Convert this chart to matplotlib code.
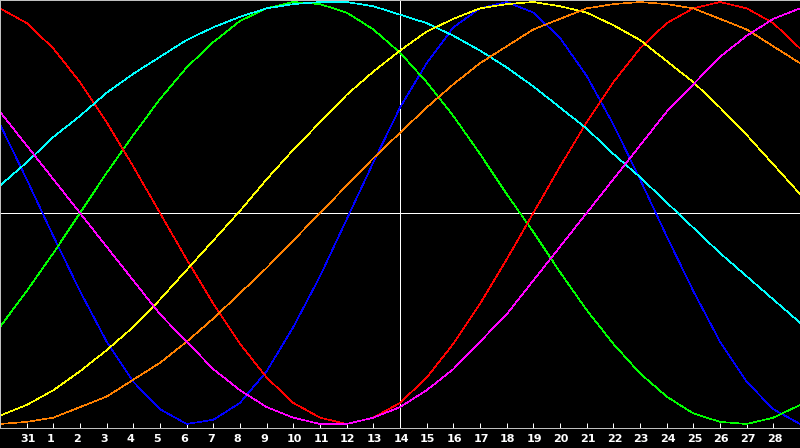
import matplotlib
matplotlib.use("Agg")
import matplotlib.pyplot as plt
from matplotlib.transforms import offset_copy

# Day labels along the x axis (index 0 .. 30)
DAYS = ["30", "31", "1", "2", "3", "4", "5", "6", "7", "8", "9", "10", "11", "12",
        "13", "14", "15", "16", "17", "18", "19", "20", "21", "22", "23", "24",
        "25", "26", "27", "28", "29"]
TODAY = "14"

# Daily values (percent)
RED = [97, 90, 78, 62, 43, 22, 0, -22, -43, -62, -78, -90, -97, -100, -97, -90,
       -78, -62, -43, -22, 0, 22, 43, 62, 78, 90, 97, 100, 97, 90, 78]
BLUE = [42, 16, -11, -37, -61, -80, -93, -100, -98, -90, -75, -54, -30, -3, 24, 50,
        71, 88, 97, 100, 95, 83, 65, 42, 16, -11, -37, -61, -80, -93, -100]
GREEN = [-54, -37, -19, 0, 19, 37, 54, 69, 81, 91, 97, 100, 99, 95, 87, 76,
         62, 46, 28, 9, -9, -28, -46, -62, -76, -87, -95, -99, -100, -97, -91]
MAGENTA = [48, 32, 16, 0, -16, -32, -48, -61, -74, -84, -92, -97, -100, -100, -97, -92,
           -84, -74, -61, -48, -32, -16, 0, 16, 32, 48, 61, 74, 84, 92, 97]
CYAN = [13, 24, 36, 46, 57, 66, 74, 82, 88, 93, 97, 99, 100, 100, 98, 94,
        90, 84, 77, 69, 60, 50, 40, 28, 17, 5, -7, -19, -30, -41, -52]
YELLOW = [-96, -91, -84, -75, -65, -54, -41, -27, -13, 1, 16, 30, 43, 56, 67, 77,
          86, 92, 97, 99, 100, 98, 95, 89, 82, 72, 62, 50, 37, 23, 9]
ORANGE = [-100, -99, -97, -92, -87, -79, -71, -61, -50, -38, -26, -13, 0, 13, 26, 38,
          50, 61, 71, 79, 87, 92, 97, 99, 100, 99, 97, 92, 87, 79, 71]

SERIES = [
    (BLUE, "#0000ff"),
    (GREEN, "#00ff00"),
    (RED, "#ff0000"),
    (CYAN, "#00ffff"),
    (YELLOW, "#ffff00"),
    (ORANGE, "#ff8000"),
    (MAGENTA, "#ff00ff"),
]

W, H = 800, 448
fig = plt.figure(figsize=(W / 100, H / 100), dpi=100, facecolor="black")
ax = fig.add_axes([0, 20 / H, 1, 428 / H])
ax.set_facecolor("black")

x = list(range(len(DAYS)))
ax.set_xlim(0, len(DAYS) - 1)
ax.set_ylim(-101.9, 100.95)

px = 0.72  # one pixel in points
ax.axhline(0, color="white", lw=px, zorder=1, antialiased=False)
ax.axvline(DAYS.index(TODAY), color="white", lw=px, zorder=1, antialiased=False)

for vals, col in SERIES:
    ax.plot(x, vals, color=col, lw=0.45, antialiased=False, zorder=2)

for side in ("top", "left"):
    ax.spines[side].set_color("#c0c0c0")
    ax.spines[side].set_linewidth(2 * px)
ax.spines["bottom"].set_color("#c0c0c0")
ax.spines["bottom"].set_linewidth(px)
ax.spines["right"].set_visible(False)

ax.set_yticks([])
ax.set_xticks(x[1:-1])
ax.tick_params(axis="x", direction="in", length=5 * px, width=px,
               color="white", labelbottom=False)

trans = offset_copy(ax.transData, fig=fig, x=-6.5, y=-11, units="dots")
ymin = ax.get_ylim()[0]
for i in x[1:-1]:
    ax.text(i, ymin, DAYS[i], transform=trans, ha="left", va="center",
            color="white", fontsize=8, fontweight="bold",
            family="DejaVu Sans", clip_on=False)

fig.savefig("out.png", dpi=100, facecolor="black")
